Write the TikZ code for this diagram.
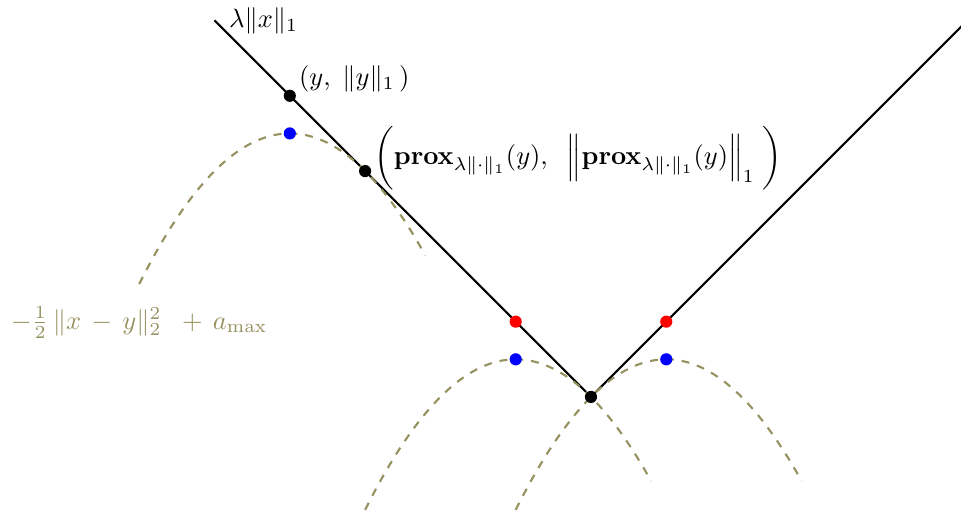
\documentclass[tikz,border=0pt]{standalone}
\usepackage{amsmath,amssymb}
\definecolor{parab}{RGB}{150,146,96}
\tikzset{
  vline/.style={thick, black},
  parabola/.style={thick, dashed, parab},
  dotblack/.style={circle, fill=black, inner sep=0pt, minimum size=4.6pt},
  dotred/.style={circle, fill=red, inner sep=0pt, minimum size=4.6pt},
  dotblue/.style={circle, fill=blue, inner sep=0pt, minimum size=4.6pt},
}
\begin{document}
\begin{tikzpicture}[x=1cm,y=1cm]
\useasboundingbox (-7.849,-1.580) rectangle (4.914,5.272);
\coordinate (L) at (-5,5);
\coordinate (O) at (0,0);
\coordinate (R) at (5,5);
\draw[vline] (L) -- (O) -- (R);
\node[anchor=west, xshift=2pt] (lab) at (L) {$\lambda\|x\|_1$};
% parabolas
\draw[parabola] plot[domain=-6:-2.2, samples=80] (\x, {-0.5*(\x+4)^2+3.5});
\draw[parabola] plot[domain=-3:0.8, samples=80] (\x, {-0.5*(\x+1)^2+0.5});
\draw[parabola] plot[domain=-1:2.8, samples=80] (\x, {-0.5*(\x-1)^2+0.5});
\node[text=parab] (plab) at (-6,0.99) {$-\frac{1}{2}\,\|x\,-\,y\|_2^2\;\;+\,a_{\max}$};
% points
\node[dotblack] (y) at (-4,4) {};
\node[dotblack] (p) at (-3,3) {};
\node[dotblack] (o) at (0,0) {};
\node[dotblue] (b1) at (-4,3.5) {};
\node[dotred] (r1) at (-1,1) {};
\node[dotred] (r2) at (1,1) {};
\node[dotblue] (b2) at (-1,0.5) {};
\node[dotblue] (b3) at (1,0.5) {};
\node[anchor=west, yshift=6.4pt] (ylab) at (y.center) {$(y,\;\|y\|_1\,)$};
\node[anchor=west, yshift=5pt] (plab2) at (p.center) {$\bigg(\mathbf{prox}_{\lambda\|\cdot\|_1}(y),\;\;\Big\|\mathbf{prox}_{\lambda\|\cdot\|_1}(y)\Big\|_1\;\bigg)$};
\end{tikzpicture}
\end{document}
